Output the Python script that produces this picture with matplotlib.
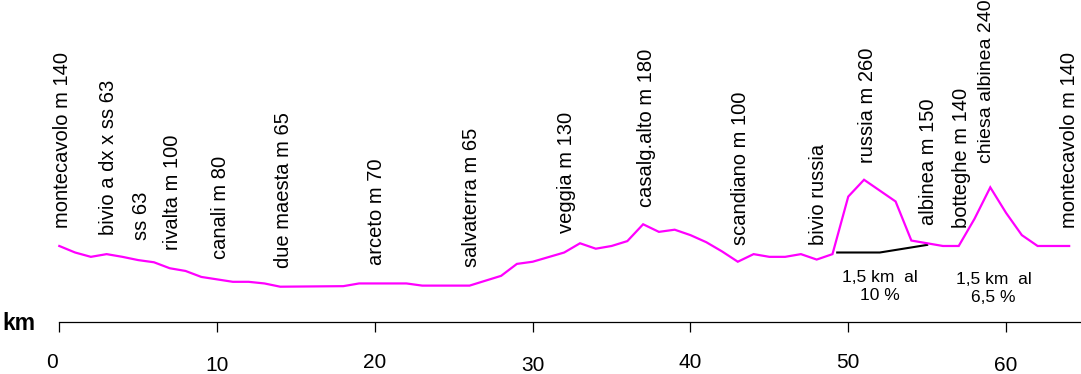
import matplotlib
matplotlib.use("Agg")
import matplotlib.pyplot as plt

plt.rcParams['font.family'] = ['Liberation Sans', 'DejaVu Sans']

# ---- data -------------------------------------------------------------
km = [0, 1, 2, 3, 4, 5, 6, 7, 8, 9, 11, 12, 13, 14, 18, 19, 22, 23, 26, 28,
      29, 30, 32, 33, 34, 35, 36, 37, 38, 39, 40, 41, 42, 43, 44, 45, 46, 47,
      48, 49, 50, 51, 53, 54, 55, 56, 57, 58, 59, 60, 61, 62, 64]
elev = [140, 128, 120, 125, 120, 114, 110, 99, 94, 83, 74, 74, 71, 65, 66, 71,
        71, 67, 67, 85, 107, 111, 128, 145, 135, 140, 149, 180, 166, 170, 160,
        147, 130, 111, 125, 120, 120, 125, 115, 125, 231, 262, 222, 150, 145,
        140, 140, 190, 248, 201, 160, 140, 140]

place_names = ["montecavolo m 140", "bivio a dx x ss 63", "ss 63", "rivalta m 100",
               "canali m 80", "due maesta m 65", "arceto m 70", "salvaterra m 65",
               "veggia m 130", "casalg.alto m 180", "scandiano m 100", "bivio russia",
               "russia m 260", "albinea m 150", "botteghe m 140", "chiesa albinea 240",
               "montecavolo m 140"]
place_km = [0.2, 3.1, 5.2, 7.15, 10.2, 14.2, 20.1, 26.1, 32.15, 37.2, 43.15, 48.1,
            51.2, 55.1, 57.2, 58.75, 64.05]

climb_km = [49.3, 52.0, 55.0]
climb_elev = [128, 128, 142]
climb_texts = ["1,5 km  al\n10 %", "1,5 km  al\n6,5 %"]
climb_text_km = [52.0, 59.2]

ticks = [0, 10, 20, 30, 40, 50, 60]
tick_labels = ["0", "10", "20", "30", "40", "50", "60"]

# ---- layout / style ---------------------------------------------------
label_bottom = [173, 160, 151, 133, 116, 100, 105, 101, 164, 212, 142, 142,
                293, 179, 173, 293, 173]          # label start heights
label_size = [14.5] * 15 + [14, 14.5]
climb_text_top = [96, 93]
tick_dy_px = [31, 34, 31, 34, 31, 31, 34]
tick_dx_px = [-7, 0, 0, 0, 0, 0, 0]
PX = 0.72  # points per pixel at dpi 100

fig = plt.figure(figsize=(10.81, 3.74), dpi=100)
ax = fig.add_axes([0, 0, 1, 1])
ax.set_xlim(-3.758, 64.75)
ax.set_ylim(-95.8, 593.1)
ax.patch.set_alpha(0)

for s in ['top', 'left', 'right']:
    ax.spines[s].set_visible(False)
ax.spines['bottom'].set_position(('data', 0))
ax.spines['bottom'].set_bounds(0, 66)
ax.spines['bottom'].set_linewidth(0.9)
ax.set_yticks([])
ax.set_xticks(ticks)
ax.set_xticklabels([])
ax.tick_params(axis='x', direction='out', length=7.2, width=0.9, color='black')

ax.plot(km, elev, color='#FF00FF', lw=1.6, solid_joinstyle='miter', zorder=3)
ax.plot(climb_km, climb_elev, color='black', lw=1.5, zorder=2)

for name, x, yb, fs in zip(place_names, place_km, label_bottom, label_size):
    ax.text(x, yb, name, rotation=90, ha='center', va='bottom', fontsize=fs,
            color='black')

for txt, x, yt in zip(climb_texts, climb_text_km, climb_text_top):
    ax.text(x, yt, txt, ha='center', va='top', fontsize=12.5, linespacing=1.3,
            multialignment='center')

for t, lab, dy, dx in zip(ticks, tick_labels, tick_dy_px, tick_dx_px):
    ax.annotate(lab, xy=(t, 0), xytext=(dx * PX, -dy * PX), textcoords='offset points',
                ha='center', va='top', fontsize=15)

fig.text(2 / 1081, 1 - 330 / 374, "km", fontsize=16.5, fontweight='bold',
         ha='left', va='baseline')

fig.savefig("out.png", dpi=100)
